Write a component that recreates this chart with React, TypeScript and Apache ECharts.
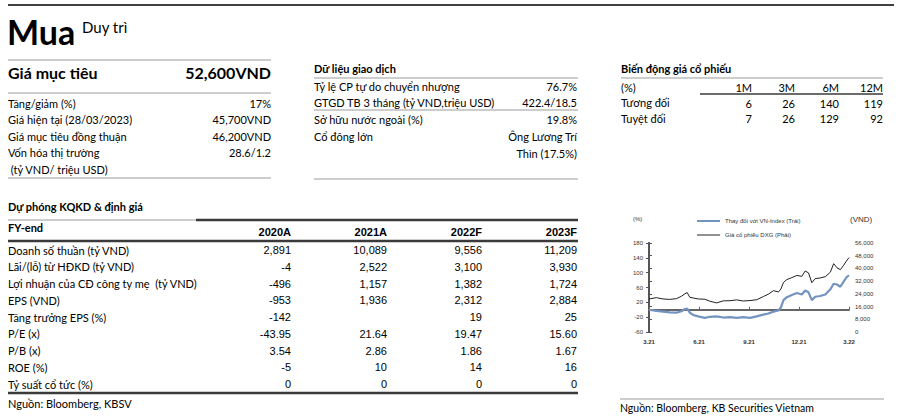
import React, { useEffect, useRef } from "react";
import * as echarts from "echarts";

// ---- Header ----
const ratingText = "Mua";
const ratingNote = "Duy trì";

// ---- Target price block ----
const targetTitle = "Giá mục tiêu";
const targetValue = "52,600VND";
const targetLabels = ["Tăng/giảm (%)", "Giá hiện tại (28/03/2023)", "Giá mục tiêu đồng thuận", "Vốn hóa thị trường", " (tỷ VND/ triệu USD)"];
const targetValues = ["17%", "45,700VND", "46,200VND", "28.6/1.2", ""];

// ---- Trading data block ----
const tradingTitle = "Dữ liệu giao dịch";
const tradingLabels = ["Tỷ lệ CP tự do chuyển nhượng", "GTGD TB 3 tháng (tỷ VND,triệu USD)", "Sở hữu nước ngoài (%)", "Cổ đông lớn", ""];
const tradingValues = ["76.7%", "422.4/18.5", "19.8%", "Ông Lương Trí", "Thìn (17.5%)"];

// ---- Price performance block ----
const perfTitle = "Biến động giá cổ phiếu";
const perfUnit = "(%)";
const perfPeriods = ["1M", "3M", "6M", "12M"];
const perfRowLabels = ["Tương đối", "Tuyệt đối"];
const perfRelative = [6, 26, 140, 119];
const perfAbsolute = [7, 26, 129, 92];

// ---- Forecast table ----
const fcTitle = "Dự phóng KQKD & định giá";
const fcHeader = "FY-end";
const fcYears = ["2020A", "2021A", "2022F", "2023F"];
const fcLabels = [
  "Doanh số thuần (tỷ VND)",
  "Lãi/(lỗ) từ HĐKD (tỷ VND)",
  "Lợi nhuận của CĐ công ty mẹ  (tỷ VND)",
  "EPS (VND)",
  "Tăng trưởng EPS (%)",
  "P/E (x)",
  "P/B (x)",
  "ROE (%)",
  "Tỷ suất cổ tức (%)",
];
const fcRevenue = ["2,891", "10,089", "9,556", "11,209"];
const fcOperating = ["-4", "2,522", "3,100", "3,930"];
const fcNetProfit = ["-496", "1,157", "1,382", "1,724"];
const fcEps = ["-953", "1,936", "2,312", "2,884"];
const fcEpsGrowth = ["-142", "", "19", "25"];
const fcPe = ["-43.95", "21.64", "19.47", "15.60"];
const fcPb = ["3.54", "2.86", "1.86", "1.67"];
const fcRoe = ["-5", "10", "14", "16"];
const fcDividend = ["0", "0", "0", "0"];
const fcSource = "Nguồn: Bloomberg, KBSV";

// ---- Chart ----
const chartLeftUnit = "(%)";
const chartRightUnit = "(VND)";
const seriesRelName = "Thay đổi với VN-Index (Trái)";
const seriesPriceName = "Giá cổ phiếu DXG (Phải)";
const xTickLabels = ["3.21", "6.21", "9.21", "12.21", "3.22"];
// months elapsed since 3.21
const months = [0, 0.44, 0.84, 1.24, 1.65, 1.95, 2.15, 2.29, 2.45, 2.65, 2.95, 3.35, 3.65, 4.05, 4.46, 4.86, 5.26, 5.66, 6.06, 6.46, 6.86, 7.16, 7.47, 7.77, 7.91, 8.07, 8.27, 8.57, 8.87, 9.17, 9.37, 9.57, 9.77, 9.97, 10.27, 10.58, 10.88, 11.08, 11.28, 11.48, 11.68, 11.84, 12];
const relChange = [0, -3, -5, -7, -8, -4, 2, 3, -8, -14, -18, -22, -19, -18, -21, -20, -22, -20, -22, -18, -13, -10, -5, -2, 6, 26, 34, 40, 45, 41, 52, 47, 26, 35, 37, 41, 55, 70, 68, 62, 76, 87, 93];
const dxgPrice = [20800, 21600, 20800, 20500, 21000, 22500, 24000, 24800, 21800, 21400, 20800, 20600, 19400, 18300, 19600, 19700, 20200, 19500, 19800, 20300, 22300, 23800, 26000, 25200, 27000, 31200, 33000, 34200, 35600, 35000, 38400, 37200, 31000, 33600, 34000, 34800, 37600, 43000, 40400, 39200, 42000, 44600, 46800];
const chartSource = "Nguồn: Bloomberg, KB Securities Vietnam";

const SANS = "Lato, 'Noto Sans', sans-serif";
const NUM = "'Liberation Sans', Arial, sans-serif";
const BLUE = "#7393c0";

function txt(text: string, x: number, y: number, o: any = {}) {
  return {
    type: "text",
    silent: true,
    style: {
      text,
      x,
      y,
      fill: o.fill || "#000",
      fontSize: o.size || 11,
      fontFamily: o.family || SANS,
      fontWeight: o.bold ? "bold" : "normal",
      textAlign: o.align || "left",
      textVerticalAlign: "middle",
    },
  };
}
function hline(x1: number, x2: number, y: number, color: string, w: number) {
  return {
    type: "line",
    silent: true,
    shape: { x1, y1: y, x2, y2: y },
    style: { stroke: color, lineWidth: w },
  };
}

export default function App() {
  const ref = useRef<HTMLDivElement>(null);
  useEffect(() => {
    if (!ref.current) return;
    const chart = echarts.init(ref.current, null, { renderer: "svg" });
    const g: any[] = [];
    const GRAY = "#bdbdbd";
    const DARK = "#3a3a3a";

    // Header
    g.push(hline(8, 894, 5, "#000", 1.5));
    g.push(txt(ratingText, 7, 31, { size: 34, bold: true }));
    g.push(txt(ratingNote, 82, 27, { size: 15 }));

    // Target block
    g.push(hline(8, 271, 60, GRAY, 1.5));
    g.push(txt(targetTitle, 8, 72, { size: 16, bold: true }));
    g.push(txt(targetValue, 271, 72, { size: 16, bold: true, align: "right" }));
    g.push(hline(8, 271, 93, GRAY, 1.5));
    const tY = [103, 119, 136, 152, 169];
    targetLabels.forEach((l, i) => {
      g.push(txt(l, 8, tY[i]));
      if (targetValues[i]) g.push(txt(targetValues[i], 271, tY[i], { align: "right" }));
    });
    g.push(hline(8, 271, 178, GRAY, 1.5));

    // Trading block
    g.push(txt(tradingTitle, 314, 68, { bold: true }));
    g.push(hline(314, 578, 78, GRAY, 1.5));
    const trY = [86, 102, 119, 136, 153];
    tradingLabels.forEach((l, i) => {
      if (l) g.push(txt(l, 314, trY[i]));
      g.push(txt(tradingValues[i], 577, trY[i], { align: "right" }));
    });
    g.push(hline(314, 578, 110, GRAY, 1.5));
    g.push(hline(314, 578, 179, GRAY, 1.5));

    // Performance block
    const perfX = [752, 795, 839, 883];
    g.push(txt(perfTitle, 621, 68, { bold: true }));
    g.push(hline(621, 883, 78, GRAY, 1.5));
    g.push(txt(perfUnit, 621, 87));
    perfPeriods.forEach((p, i) => g.push(txt(p, perfX[i], 87, { align: "right" })));
    g.push(hline(700, 883, 94, DARK, 1.5));
    g.push(txt(perfRowLabels[0], 621, 102));
    g.push(txt(perfRowLabels[1], 621, 118));
    perfRelative.forEach((v, i) => g.push(txt(String(v), perfX[i], 103, { align: "right" })));
    perfAbsolute.forEach((v, i) => g.push(txt(String(v), perfX[i], 118, { align: "right" })));

    // Forecast table
    const colX = [291, 387, 482, 577];
    const rows = [fcRevenue, fcOperating, fcNetProfit, fcEps, fcEpsGrowth, fcPe, fcPb, fcRoe, fcDividend];
    g.push(txt(fcTitle, 8, 206, { bold: true }));
    g.push(hline(8, 196, 220, GRAY, 1.5));
    g.push(hline(196, 578, 220, DARK, 2.5));
    g.push(txt(fcHeader, 8, 227, { bold: true }));
    fcYears.forEach((y, i) => g.push(txt(y, colX[i], 232, { bold: true, align: "right", family: NUM, size: 11 })));
    g.push(hline(8, 578, 241, DARK, 2.5));
    fcLabels.forEach((l, r) => {
      const y = 250 + r * 16.75;
      g.push(txt(l, 8, y));
      rows[r].forEach((v, i) => {
        if (v) g.push(txt(v, colX[i], y, { align: "right", family: NUM, size: 11 }));
      });
    });
    g.push(hline(8, 578, 393, DARK, 2.5));
    g.push(txt(fcSource, 8, 403));

    // Chart extras
    g.push(txt(chartLeftUnit, 633, 219, { size: 6, fill: "#333", family: NUM }));
    g.push(txt(chartRightUnit, 850, 219, { size: 8, fill: "#333", family: NUM }));
    g.push(hline(620, 884, 399, GRAY, 1.5));
    g.push(txt(chartSource, 620, 408, { size: 10.5 }));

    const axisLabelStyle = { fontSize: 6, color: "#333", fontFamily: NUM };
    const legendText = { fontSize: 6, color: "#333", fontFamily: NUM };
    chart.setOption({
      animation: false,
      backgroundColor: "#fff",
      graphic: { elements: g },
      legend: [
        {
          left: 692,
          top: 213,
          itemWidth: 23,
          itemHeight: 2,
          textStyle: legendText,
          data: [{ name: seriesRelName, icon: "rect", itemStyle: { color: BLUE } }],
        },
        {
          left: 692,
          top: 227,
          itemWidth: 23,
          itemHeight: 1,
          textStyle: legendText,
          data: [{ name: seriesPriceName, icon: "rect", itemStyle: { color: "#222" } }],
        },
      ],
      grid: { left: 649, right: 53, top: 243, bottom: 84 },
      xAxis: [
        {
          type: "value",
          min: 0,
          max: 12,
          interval: 3,
          axisLine: { show: true, onZero: true, lineStyle: { color: "#666", width: 2 } },
          axisTick: { show: true, inside: true, length: 3, lineStyle: { color: "#666" } },
          axisLabel: { show: false },
          splitLine: { show: false },
        },
        {
          type: "value",
          min: 0,
          max: 12,
          interval: 3,
          position: "bottom",
          axisLine: { show: false, onZero: false },
          axisTick: { show: false },
          axisLabel: { ...axisLabelStyle, fontWeight: "bold", margin: 7, formatter: (v: number) => xTickLabels[Math.round(v / 3)] || "" },
          splitLine: { show: false },
        },
      ],
      yAxis: [
        {
          type: "value",
          min: -60,
          max: 180,
          interval: 40,
          axisLine: { show: true, lineStyle: { color: "#555", width: 2 } },
          axisTick: { show: true, length: 3, lineStyle: { color: "#555" } },
          axisLabel: { ...axisLabelStyle, margin: 6 },
          splitLine: { show: false },
        },
        {
          type: "value",
          min: 0,
          max: 56000,
          interval: 8000,
          position: "right",
          alignTicks: false,
          axisLine: { show: true, lineStyle: { color: "#555", width: 2 } },
          axisTick: { show: true, length: 3, lineStyle: { color: "#555" } },
          axisLabel: { ...axisLabelStyle, margin: 6, formatter: (v: number) => v.toLocaleString("en-US") },
          splitLine: { show: false },
        },
      ],
      series: [
        {
          name: seriesRelName,
          type: "line",
          xAxisIndex: 0,
          yAxisIndex: 0,
          symbol: "none",
          lineStyle: { color: BLUE, width: 2.2 },
          itemStyle: { color: BLUE },
          data: months.map((m, i) => [m, relChange[i]]),
        },
        {
          name: seriesPriceName,
          type: "line",
          xAxisIndex: 0,
          yAxisIndex: 1,
          symbol: "none",
          lineStyle: { color: "#222", width: 1 },
          itemStyle: { color: "#222" },
          data: months.map((m, i) => [m, dxgPrice[i]]),
        },
      ],
    });
    return () => chart.dispose();
  }, []);
  return <div ref={ref} style={{ position: "fixed", left: 0, top: 0, width: 902, height: 416, background: "#fff" }} />;
}
